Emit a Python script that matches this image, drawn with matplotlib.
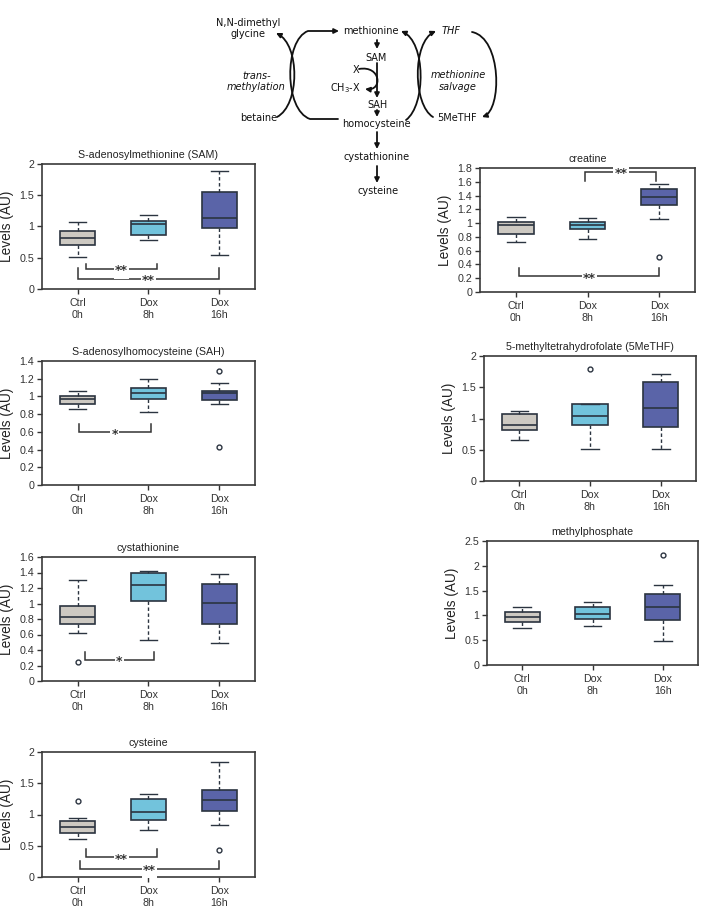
import matplotlib
matplotlib.use("Agg")
import matplotlib.pyplot as plt
from matplotlib.patches import FancyArrowPatch
from matplotlib.path import Path
from matplotlib.ticker import FuncFormatter

# ---------------- data ----------------
groups = ['Ctrl\n0h', 'Dox\n8h', 'Dox\n16h']
colors = ['#cdc9c2', '#72c3dc', '#5a64a8']

sam_lo = [0.52, 0.78, 0.54]
sam_q1 = [0.70, 0.86, 0.97]
sam_med = [0.82, 1.04, 1.14]
sam_q3 = [0.92, 1.09, 1.55]
sam_hi = [1.07, 1.19, 1.89]
sam_fl = [[], [], []]

sah_lo = [0.86, 0.82, 0.91]
sah_q1 = [0.91, 0.97, 0.96]
sah_med = [0.97, 1.04, 1.04]
sah_q3 = [1.01, 1.09, 1.06]
sah_hi = [1.06, 1.20, 1.15]
sah_fl = [[], [], [1.29, 0.43]]

cys_lo = [0.62, 0.53, 0.49]
cys_q1 = [0.735, 1.03, 0.74]
cys_med = [0.82, 1.235, 1.01]
cys_q3 = [0.965, 1.39, 1.25]
cys_hi = [1.30, 1.415, 1.38]
cys_fl = [[0.245], [], []]

cst_lo = [0.61, 0.75, 0.84]
cst_q1 = [0.71, 0.92, 1.055]
cst_med = [0.80, 1.04, 1.24]
cst_q3 = [0.895, 1.25, 1.395]
cst_hi = [0.94, 1.325, 1.835]
cst_fl = [[1.215], [], [0.43]]

cre_lo = [0.73, 0.765, 1.06]
cre_q1 = [0.84, 0.91, 1.265]
cre_med = [0.975, 0.97, 1.375]
cre_q3 = [1.01, 1.015, 1.495]
cre_hi = [1.095, 1.075, 1.575]
cre_fl = [[], [], [0.51]]

mth_lo = [0.65, 0.51, 0.51]
mth_q1 = [0.81, 0.90, 0.865]
mth_med = [0.90, 1.035, 1.165]
mth_q3 = [1.075, 1.24, 1.59]
mth_hi = [1.12, 1.24, 1.71]
mth_fl = [[], [1.79], []]

mp_lo = [0.74, 0.78, 0.485]
mp_q1 = [0.865, 0.92, 0.905]
mp_med = [0.96, 1.03, 1.175]
mp_q3 = [1.075, 1.16, 1.435]
mp_hi = [1.16, 1.275, 1.615]
mp_fl = [[], [], [2.22]]

# significance brackets: (x1, x2, y, tick height, label)
sam_sig = [(1.12, 2.12, 0.32, 0.085, '**'), (1.0, 3.0, 0.165, 0.17, '**')]
sah_sig = [(1.02, 2.03, 0.595, 0.095, '*')]
cys_sig = [(1.1, 2.08, 0.27, 0.105, '*')]
cst_sig = [(1.12, 2.12, 0.316, 0.13, '**'), (1.03, 3.0, 0.134, 0.125, '**')]
cre_sig = [(1.97, 2.96, 1.74, -0.13, '**'), (1.05, 3.0, 0.226, 0.12, '**')]

# ---------------- figure ----------------
W, H = 704, 906
fig = plt.figure(figsize=(W / 100, H / 100), dpi=100)
plt.rcParams['font.family'] = ['Liberation Sans', 'DejaVu Sans']

EDGE = '#2b3440'
TXT = '#333333'


def px_axes(x0, y0, x1, y1):
    return fig.add_axes([x0 / W, 1 - y1 / H, (x1 - x0) / W, (y1 - y0) / H])


def panel(rect, title, lo, q1, med, q3, hi, fl, ymax, step, sig):
    ax = px_axes(*rect)
    stats = []
    for i in range(3):
        stats.append(dict(whislo=lo[i], q1=q1[i], med=med[i], q3=q3[i],
                          whishi=hi[i], fliers=fl[i], label=groups[i]))
    art = ax.bxp(stats, positions=[1, 2, 3], widths=0.5, patch_artist=True,
                 capwidths=0.25,
                 boxprops=dict(edgecolor=EDGE, linewidth=1.2),
                 medianprops=dict(color=EDGE, linewidth=1.2),
                 whiskerprops=dict(color=EDGE, linewidth=1.0, linestyle=(0, (2.5, 1.8))),
                 capprops=dict(color=EDGE, linewidth=1.0),
                 flierprops=dict(marker='o', markersize=3.5, markerfacecolor='white',
                                 markeredgecolor=EDGE, markeredgewidth=1.0))
    for b, c in zip(art['boxes'], colors):
        b.set_facecolor(c)
    ax.set_xlim(0.5, 3.5)
    ax.set_ylim(0, ymax)
    ticks = [round(step * k, 3) for k in range(int(round(ymax / step)) + 1)]
    ax.set_yticks(ticks)
    ax.yaxis.set_major_formatter(FuncFormatter(lambda v, p: '%g' % v))
    ax.set_xticks([1, 2, 3])
    ax.set_xticklabels(groups)
    ax.tick_params(axis='both', labelsize=7.7, colors=TXT, length=3.5, width=1,
                   direction='out', pad=2)
    ax.tick_params(axis='x', pad=3)
    for s in ax.spines.values():
        s.set_color('#3a3a3a')
        s.set_linewidth(1.2)
    ax.set_title(title, fontsize=7.7, color='#222222', pad=4)
    ax.set_ylabel('Levels (AU)', fontsize=9.8, color='#222222', labelpad=4)
    for (x1, x2, y, h, lab) in sig:
        ax.plot([x1, x1, x2, x2], [y + h, y, y, y + h], color='#333333', lw=1.1,
                solid_joinstyle='miter', zorder=3)
        ax.text((x1 + x2) / 2, y - ymax * 0.015, lab, ha='center', va='center',
                fontsize=9, color='#333333', fontweight='bold', zorder=4,
                family=['DejaVu Sans'],
                bbox=dict(boxstyle='square,pad=0.1', fc='white', ec='none'))
    return ax


# ---------------- pathway diagram ----------------
dg = fig.add_axes([0, 0, 1, 1])
dg.set_xlim(0, W)
dg.set_ylim(H, 0)
dg.axis('off')

DF = ['DejaVu Sans']
FS = 7.0


def t(x, y, s, style='normal'):
    dg.text(x, y, s, ha='center', va='center', fontsize=FS, family=DF,
            style=style, color='#111111')


t(248, 23, 'N,N-dimethyl')
t(248, 34, 'glycine')
t(257, 76, 'trans-', 'italic')
t(256, 87, 'methylation', 'italic')
t(259, 118, 'betaine')
t(371, 31, 'methionine')
t(376, 58, 'SAM')
t(356, 70, 'X')
t(345, 88, 'CH$_3$-X')
t(378, 105, 'SAH')
t(376, 124, 'homocysteine')
t(377, 157, 'cystathionine')
t(378, 191, 'cysteine')
t(451, 31, 'THF', 'italic')
t(458, 75, 'methionine', 'italic')
t(458, 87, 'salvage', 'italic')
t(457, 118, '5MeTHF')


def parrow(verts, codes, head=True):
    p = Path(verts, codes)
    a = FancyArrowPatch(path=p, arrowstyle='-|>' if head else '-',
                        mutation_scale=7, lw=1.3, color='#111111',
                        shrinkA=0, shrinkB=0)
    dg.add_patch(a)


M, L, C = Path.MOVETO, Path.LINETO, Path.CURVE4
# straight vertical arrows
for (y0, y1) in [(40, 49), (63, 98), (110, 117), (132, 149), (166, 183)]:
    parrow([(377, y0), (377, y1)], [M, L])
# X -> CH3-X
parrow([(359, 69), (381, 65), (383, 91), (365, 89)], [M, C, C, C])
# homocysteine -> methionine (transmethylation "(")
parrow([(338, 119), (310, 119), (284, 110), (284, 40), (308, 31), (339, 31)],
       [M, L, C, C, C, L])
# betaine -> N,N-dimethylglycine (")")
parrow([(277, 117), (300, 105), (300, 45), (276, 33)], [M, C, C, C])
# homocysteine -> methionine (salvage ")")
parrow([(406, 120), (426, 105), (426, 42), (401, 31)], [M, C, C, C])
# 5MeTHF -> THF ("(")
parrow([(433, 117), (413, 105), (412, 42), (436, 31)], [M, C, C, C])
# THF -> 5MeTHF (big ")")
parrow([(472, 32), (502, 38), (502, 110), (482, 117)], [M, C, C, C])

# ---------------- panels ----------------
panel((42, 164, 255, 289), 'S-adenosylmethionine (SAM)',
      sam_lo, sam_q1, sam_med, sam_q3, sam_hi, sam_fl, 2.0, 0.5, sam_sig)
panel((42, 361, 255, 485), 'S-adenosylhomocysteine (SAH)',
      sah_lo, sah_q1, sah_med, sah_q3, sah_hi, sah_fl, 1.4, 0.2, sah_sig)
panel((42, 557, 255, 681), 'cystathionine',
      cys_lo, cys_q1, cys_med, cys_q3, cys_hi, cys_fl, 1.6, 0.2, cys_sig)
panel((42, 752, 255, 877), 'cysteine',
      cst_lo, cst_q1, cst_med, cst_q3, cst_hi, cst_fl, 2.0, 0.5, cst_sig)
panel((480, 168, 695, 292), 'creatine',
      cre_lo, cre_q1, cre_med, cre_q3, cre_hi, cre_fl, 1.8, 0.2, cre_sig)
panel((484, 356, 696, 481), '5-methyltetrahydrofolate (5MeTHF)',
      mth_lo, mth_q1, mth_med, mth_q3, mth_hi, mth_fl, 2.0, 0.5, [])
panel((487, 541, 698, 665), 'methylphosphate',
      mp_lo, mp_q1, mp_med, mp_q3, mp_hi, mp_fl, 2.5, 0.5, [])

fig.savefig('out.png', dpi=100, facecolor='white')
